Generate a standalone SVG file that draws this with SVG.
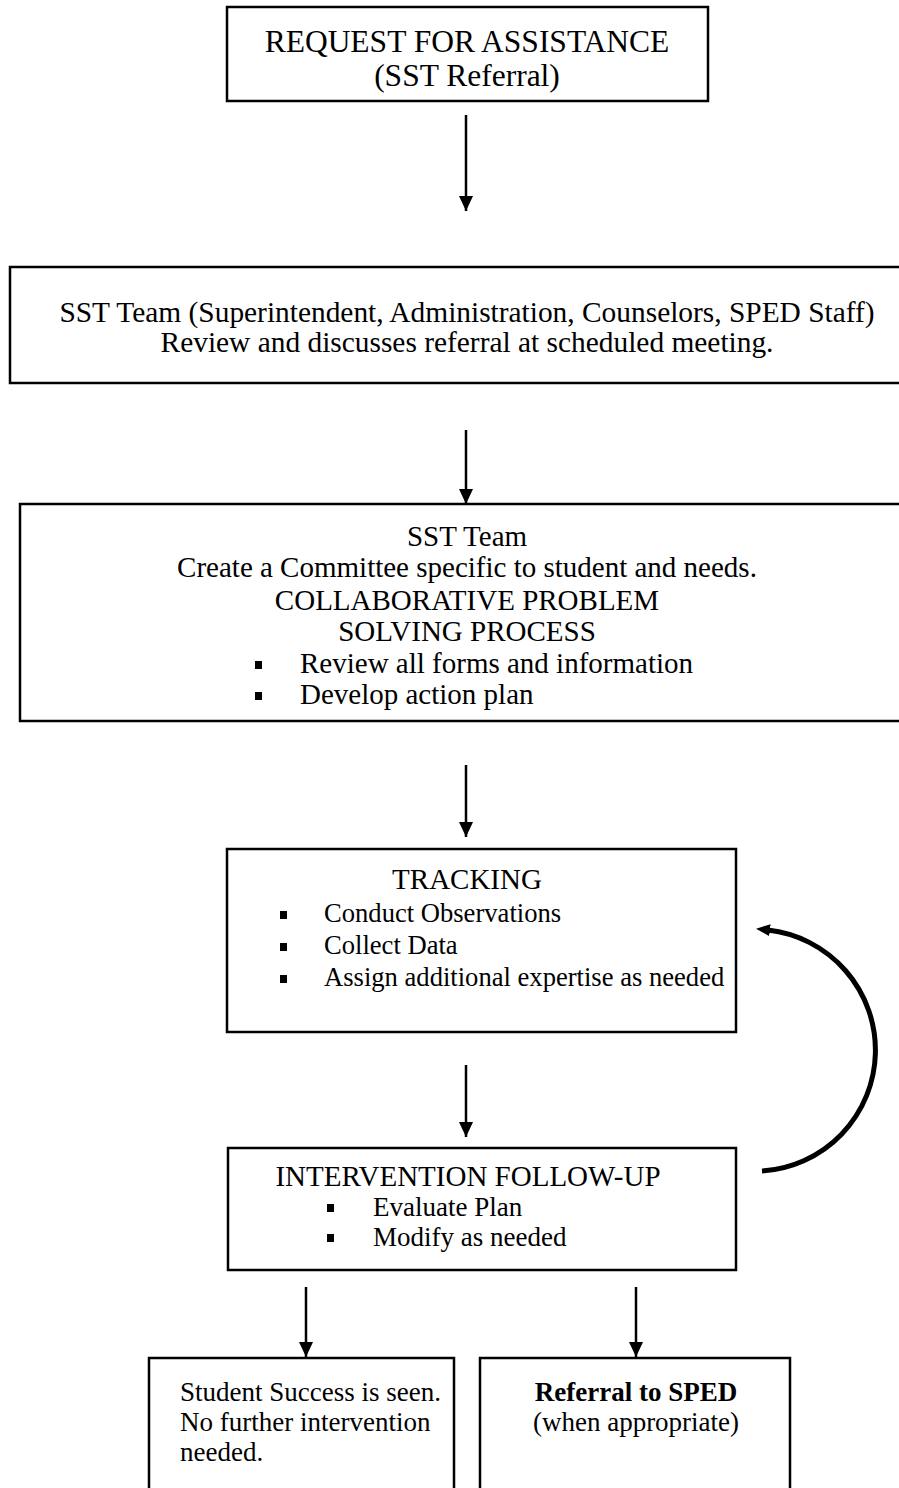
<svg xmlns="http://www.w3.org/2000/svg" width="899" height="1488" viewBox="0 0 899 1488">
<style>
.box{fill:#fff;stroke:#000;stroke-width:2.5}
.t{font-family:"Liberation Serif","Times New Roman",serif;font-size:29px;fill:#000}
.s{font-size:27px}
.c{text-anchor:middle}
.b{font-weight:bold}
.conn{stroke:#000;stroke-width:2.5;fill:none}
.bul{fill:#000}
</style>
<defs>
<marker id="ah" markerWidth="14" markerHeight="15" refX="7" refY="15" orient="0" markerUnits="userSpaceOnUse">
<path d="M0,0 L14,0 L7,15 Z" fill="#000"/>
</marker>
<marker id="ahc" markerWidth="14" markerHeight="12" refX="2" refY="6" orient="auto" markerUnits="userSpaceOnUse">
<path d="M0,0 L14,6 L0,12 Z" fill="#000"/>
</marker>
</defs>
<rect x="0" y="0" width="899" height="1488" fill="#fff"/>
<g id="connectors">
<line class="conn" x1="466" y1="115" x2="466" y2="211" marker-end="url(#ah)"/>
<line class="conn" x1="466" y1="430" x2="466" y2="504" marker-end="url(#ah)"/>
<line class="conn" x1="466" y1="765" x2="466" y2="837" marker-end="url(#ah)"/>
<line class="conn" x1="466" y1="1065" x2="466" y2="1137" marker-end="url(#ah)"/>
<line class="conn" x1="306" y1="1287" x2="306" y2="1357" marker-end="url(#ah)"/>
<line class="conn" x1="636" y1="1287" x2="636" y2="1357" marker-end="url(#ah)"/>
<path d="M 762 1171 A 121 121 0 0 0 768 930" stroke="#000" stroke-width="5" fill="none" marker-end="url(#ahc)"/>
</g>
<g id="n1">
<rect class="box" x="227" y="7" width="481" height="94"/>
<text class="t c" x="467" y="52" style="font-size:31.5px">REQUEST FOR ASSISTANCE</text>
<text class="t c" x="467" y="86" style="font-size:31.5px">(SST Referral)</text>
</g>
<g id="n2">
<rect class="box" x="10" y="267" width="900" height="116"/>
<text class="t c" x="467" y="322" style="font-size:29.4px">SST Team (Superintendent, Administration, Counselors, SPED Staff)</text>
<text class="t c" x="467" y="352" style="font-size:29.4px">Review and discusses referral at scheduled meeting.</text>
</g>
<g id="n3">
<rect class="box" x="20" y="504" width="900" height="217"/>
<text class="t c" x="467" y="546">SST Team</text>
<text class="t c" x="467" y="577">Create a Committee specific to student and needs.</text>
<text class="t c" x="467" y="610">COLLABORATIVE PROBLEM</text>
<text class="t c" x="467" y="641">SOLVING PROCESS</text>
<rect class="bul" x="255" y="661" width="7" height="8"/>
<text class="t" x="300" y="673">Review all forms and information</text>
<rect class="bul" x="255" y="692" width="7" height="8"/>
<text class="t" x="300" y="704">Develop action plan</text>
</g>
<g id="n4">
<rect class="box" x="227" y="849" width="509" height="183"/>
<text class="t c" x="467" y="889">TRACKING</text>
<rect class="bul" x="280" y="911" width="7" height="8"/>
<text class="t" x="324" y="922" style="font-size:26.6px">Conduct Observations</text>
<rect class="bul" x="280" y="943" width="7" height="8"/>
<text class="t" x="324" y="954" style="font-size:26.6px">Collect Data</text>
<rect class="bul" x="280" y="975" width="7" height="8"/>
<text class="t" x="324" y="986" style="font-size:26.6px">Assign additional expertise as needed</text>
</g>
<g id="n5">
<rect class="box" x="228" y="1148" width="508" height="122"/>
<text class="t c" x="468" y="1186">INTERVENTION FOLLOW-UP</text>
<rect class="bul" x="327" y="1204" width="7" height="8"/>
<text class="t s" x="373" y="1216">Evaluate Plan</text>
<rect class="bul" x="327" y="1234" width="7" height="8"/>
<text class="t s" x="373" y="1246">Modify as needed</text>
</g>
<g id="n6">
<rect class="box" x="149" y="1358" width="305" height="140"/>
<text class="t s" x="180" y="1401">Student Success is seen.</text>
<text class="t s" x="180" y="1431">No further intervention</text>
<text class="t s" x="180" y="1461">needed.</text>
</g>
<g id="n7">
<rect class="box" x="480" y="1358" width="310" height="140"/>
<text class="t s c b" x="636" y="1401">Referral to SPED</text>
<text class="t s c" x="636" y="1431">(when appropriate)</text>
</g>
</svg>
